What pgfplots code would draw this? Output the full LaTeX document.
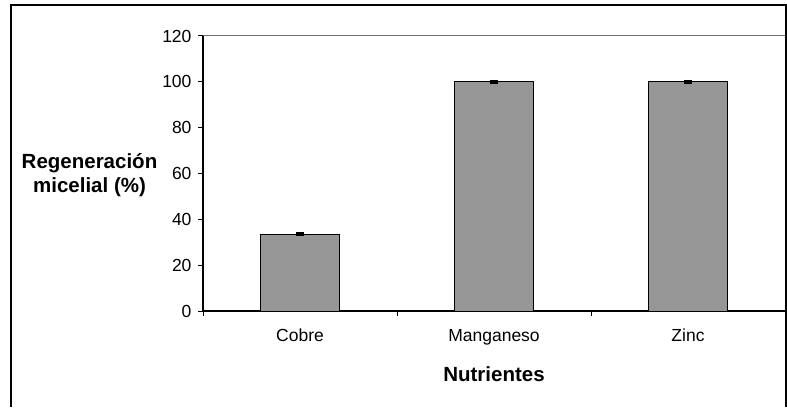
\documentclass[border=0pt]{standalone}
\usepackage{pgfplots}
\pgfplotsset{compat=1.18}
\usepackage{pgfplotstable}
\usepackage{fontspec}
\setmainfont{Liberation Sans}
\definecolor{barcol}{RGB}{150,150,150}
\pgfplotstableread{
x y e
0 33.5 0.5
1 100 0.3
2 100 0.3
}\datatable
\begin{document}
\begin{tikzpicture}[x=1pt,y=1pt]
\useasboundingbox (0,0) rectangle (787,407);
\begin{axis}[
  at={(203pt,96pt)}, anchor=south west,
  scale only axis, width=582pt, height=275pt,
  xmin=-0.5, xmax=2.5, ymin=0, ymax=120,
  clip=false,
  axis lines*=left,
  axis line style={line width=1.2pt, black, -},
  ytick={0,20,...,120},
  xtick={0,1,2}, xticklabels={Cobre,Manganeso,Zinc},
  minor xtick={-0.5,0.5,1.5,2.5},
  tick align=outside,
  major x tick style={draw=none},
  minor tick length=5pt, major tick length=5pt,
  tick style={black, line width=1pt},
  ticklabel style={font=\fontsize{17.5}{20}\selectfont},
  xticklabel style={anchor=north, text height=0.75em, text depth=0.22em, yshift=-14pt},
  yticklabel style={xshift=-3pt},
  /pgf/number format/assume math mode=true,
  xlabel={Nutrientes}, ylabel={Regeneración\\micelial (\%)},
  label style={font=\bfseries\fontsize{20.5}{24}\selectfont},
  xlabel style={at={(axis description cs:0.5,-0.229)}, anchor=center},
  ylabel style={at={(axis description cs:-0.195,0.495)}, anchor=center, rotate=-90, align=center},
  ybar, bar width=79pt,
]
\draw[black!55, line width=1pt] (rel axis cs:0,1) -- (rel axis cs:1,1) -- (rel axis cs:1,0);
\addplot[fill=barcol, draw=black, line width=0.9pt,
  error bars/.cd, y dir=both, y explicit,
  error bar style={line width=1.5pt, black},
  error mark options={rotate=90, mark size=4pt, line width=2pt, black}]
  table[x=x, y=y, y error=e] {\datatable};
\end{axis}
\draw[line width=1.5pt] (11,0) -- (11,402) -- (786,402) -- (786,0);
\end{tikzpicture}
\end{document}
